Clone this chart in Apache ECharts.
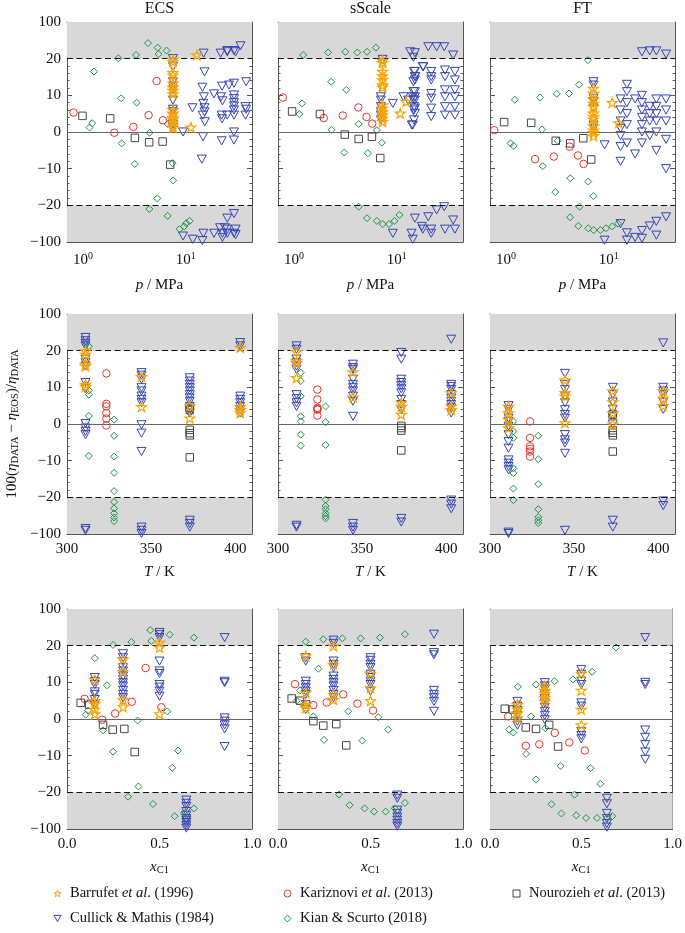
<!DOCTYPE html>
<html><head><meta charset="utf-8">
<script src="https://cdn.jsdelivr.net/npm/echarts@6/dist/echarts.min.js"></script>
<style>html,body{margin:0;padding:0;background:#fff}#c{width:685px;height:933px}</style>
</head><body><div id="c"></div>
<script>
// ---------------- DATA (deviation values in %, x in native units) ----------------
const models = ['ECS', 'sScale', 'FT'];
const seriesNames = ['Barrufet et al. (1996)', 'Cullick & Mathis (1984)', 'Kariznovi et al. (2013)', 'Kian & Scurto (2018)', 'Nourozieh et al. (2013)'];
const yTickValues = [-100, -20, -10, 0, 10, 20, 100];
const xTickP = [1, 10];
const xTickT = [300, 350, 400];
const xTickX = [0.0, 0.5, 1.0];

// ---- row 1: vs p / MPa ----
const ECS_p_barrufet = [[7.5,19.8],[7.5,19.2],[7.5,16.2],[7.5,15.5],[7.5,13.3],[7.5,12.2],[7.5,11.3],[7.5,10.4],[7.5,6.0],[7.5,5.1],[7.5,4.0],[7.5,3.5],[7.5,2.5],[7.5,1.6],[7.5,1.2],[11.2,1.3],[12.8,28]];
const ECS_p_cullick = [[7.5,20.1],[7.5,17.8],[7.5,13.7],[7.5,12.5],[7.5,11.5],[7.5,8.7],[7.5,6.2],[7.5,5.5],[7.5,4.2],[7.5,2.2],[7.5,1.3],[9.4,0],[9.4,-87],[11.6,6.6],[11.7,-94],[14.9,32],[14.7,-1.3],[14.3,-7.4],[15.2,16.4],[14.5,12.2],[15,9.6],[14.8,7.8],[15.2,6.6],[15.2,5.5],[14.6,4.6],[15.3,2.8],[14.8,-81],[14.5,-97],[18.8,10.4],[18.8,-81],[21.8,32],[22.5,12.5],[22,9.6],[22.7,8.5],[22.3,4.6],[22.5,3.6],[22.3,-2.4],[22.7,-81],[22.7,-90],[21.5,-69],[25.3,37.6],[25.3,35],[26.3,12.8],[25.3,4.6],[25.3,-48],[25.3,-72],[25.3,-81],[24,-69],[29.4,37.6],[30.5,35],[29.4,13.3],[29.4,10.1],[29.4,9.1],[29.4,8],[29.4,7.1],[29.4,6],[29.4,4.6],[29.4,0],[29.4,-2.2],[29.4,-81],[29.4,-38],[30.5,-72],[30.5,-84],[34,48],[38.6,13.7],[38,6.9],[38.6,6.2],[38,4.6]];
const ECS_p_kariznovi = [[0.81,5.3],[2.02,-0.2],[3.09,1.4],[4.35,4.6],[5.2,13.9],[5.99,3.2]];
const ECS_p_kian = [[1.28,16.5],[1.16,1.2],[1.23,2.4],[2.21,20.8],[2.35,9.2],[2.38,-3.1],[3.28,28],[3.33,8.0],[3.19,-8.7],[4.29,54],[4.45,-0.2],[4.42,-28],[5.32,44],[5.44,30],[6.5,37.6],[5.28,-18.1],[6.65,-43],[6.65,2.2],[7.43,-8.5],[7.54,-13.2],[8.69,-72],[9.64,-66],[10.1,-59],[10.9,-54]];
const ECS_p_nourozieh = [[0.99,4.4],[1.84,3.7],[3.2,-1.6],[4.4,-2.8],[5.95,-2.6],[7.05,-8.9]];

const SS_p_barrufet = [[7.27,19.5],[7.27,18.9],[7.27,16.5],[7.27,15.3],[7.27,14.2],[7.27,12.8],[7.27,12.2],[7.27,7.4],[7.27,6.5],[7.27,5.5],[7.27,4.6],[7.27,3.7],[7.27,2.8],[12.3,8.3],[10.8,5.1]];
const SS_p_cullick = [[7.0,9.6],[7.0,8.7],[7.0,6.9],[7.0,5.5],[7.0,4.6],[7.0,3.3],[7.27,19.8],[9.15,7.8],[11.6,9.6],[12.9,8.7],[14.5,23],[14.7,16.5],[15.1,15.1],[14.5,13.7],[14.5,11],[14.3,9.6],[14.5,8.7],[14.7,6.9],[14.7,6],[14.7,3.3],[14.3,1.9],[14.3,-94],[9.15,-81],[17.9,17.8],[17.9,-72],[13.5,35],[15,33],[18.1,17.8],[20.2,46],[24.4,46],[28.9,46],[35.3,28],[15,16.5],[15,15.1],[15,14.2],[21.6,16.5],[21.6,15.1],[21.6,14.2],[29.4,16.9],[29.4,15.1],[36.7,16.5],[36.7,14.2],[15,11],[15,9.6],[15,8.7],[15,6.5],[15,5.1],[14,1.9],[21.6,10.5],[21.6,9.2],[21.6,6.5],[21.6,4.2],[29.4,11.5],[29.4,9.6],[29.4,6.9],[29.4,4.6],[36.7,11.5],[36.7,9.6],[36.7,6.9],[36.7,4.6],[17.5,-66],[15,-48],[20.2,-45],[24.4,-30],[28.9,-23],[21.6,-72],[21.6,-81],[29.4,-72],[35.3,-52],[36.7,-72],[13.9,-81]];
const SS_p_kariznovi = [[0.78,9.4],[1.95,3.8],[2.98,4.5],[4.23,6.7],[5.08,4.1],[5.77,2.3]];
const SS_p_kian = [[1.23,28],[1.13,4.9],[1.2,7.8],[2.15,33.6],[2.3,13.7],[2.32,0.6],[3.16,35],[3.23,11.5],[3.09,-5.6],[4.13,33.6],[4.26,2.2],[4.26,-23],[5.13,35],[5.24,-5.8],[5.13,-48],[6.26,44],[6.4,0.5],[7.16,-2.9],[6.4,-54],[7.3,-61],[8.4,-61],[9.5,-54],[10.6,-41]];
const SS_p_nourozieh = [[0.96,5.6],[1.79,4.9],[3.12,-0.7],[4.26,-1.9],[5.73,-1.3],[6.9,-7.1]];

const FT_p_barrufet = [[7.1,11.9],[7.1,10.5],[7.1,8.9],[7.1,7.8],[7.1,6.9],[7.1,5.1],[7.1,4.2],[7.1,3.5],[7.1,1.6],[7.1,0.5],[7.1,-0.2],[7.1,-1.1],[10.8,8],[12.5,2.5]];
const FT_p_cullick = [[7.1,13.7],[7.1,12.8],[7.1,9.2],[7.1,8.3],[7.1,6.5],[7.1,1.9],[7.1,1],[9.1,-3.5],[9.1,-96],[13,9],[13,6],[13,3],[13,1],[13,-1],[13,-4],[13,-8],[15,13],[15,11],[15,8],[15,5],[15,2],[15,-3],[18,9],[18,-6],[21,35],[21,10],[21,8],[21,6],[21,4],[21,2],[21,0],[21,-3],[25,37],[25,7],[25,5],[25,3],[25,-1],[29,37],[29,9],[29,7],[29,5],[29,3],[29,0],[29,-5],[36,30],[36,9],[36,6],[36,3],[36,-2],[36,-10],[13,-60],[15,-80],[18,-90],[21,-75],[25,-65],[29,-55],[36,-45],[15,-96],[21,-92],[29,-85]];
const FT_p_kariznovi = [[0.77,0.5],[1.92,-7.4],[2.92,-6.7],[4.16,-4],[5.01,-6.4],[5.69,-8.7]];
const FT_p_kian = [[1.22,8.8],[1.11,-3.1],[1.19,-3.8],[2.15,9.4],[2.25,0.7],[2.28,-9.3],[3.12,10.4],[3.19,-2.4],[3.02,-16.4],[4.1,10.5],[4.22,-12.6],[4.2,-46],[5.13,12.9],[5.2,-23],[5.05,-65],[6.27,19.6],[6.31,-13.5],[6.31,-70],[7.1,-17.5],[7.12,-74],[8.3,-74],[9.4,-70],[10.8,-66],[12.3,-60]];
const FT_p_nourozieh = [[0.96,2.7],[1.76,2.5],[3.05,-2.4],[4.22,-3.1],[5.65,-1.7],[6.74,-7.5]];

// ---- row 2: vs T / K ----
const ECS_T_barrufet = [[311,19.9],[311,19],[311,16.3],[311,15.8],[311,10.8],[311,10.2],[344.3,12.9],[344.3,4.7],[373,5],[373,1.6],[403,27],[403,4.7],[403,3.9],[403,3]];
const ECS_T_cullick = [[311,48.8],[311,41.6],[311,36],[311,30.4],[311,17.7],[311,16.7],[311,15.8],[311,11.3],[311,9.6],[311,0.1],[311,-1.1],[311,-2],[311,-2.9],[311,-88],[311,-92],[344.3,14],[344.3,13.3],[344.3,12.2],[344.3,9.9],[344.3,9],[344.3,7.6],[344.3,6.7],[344.3,5.8],[344.3,-0.2],[344.3,-2.5],[344.3,-7.5],[344.3,-85],[344.3,-92],[344.3,-99],[373,12.6],[373,11.7],[373,10.8],[373,9.9],[373,9],[373,8],[373,7.1],[373,6.2],[373,4.8],[373,3.9],[373,3],[373,-70],[373,-77],[373,-85],[403,37.6],[403,30.4],[403,7.6],[403,6.7],[403,5.8],[403,4.8],[403,3.9],[403,3]];
const ECS_T_kariznovi = [[323.4,13.8],[323.4,5.5],[323.4,4.8],[323.4,3],[323.4,1.5],[323.4,-0.4]];
const ECS_T_kian = [[313,29.6],[313,9.2],[313,8],[313,2.2],[313,-8.7],[328,1.2],[328,-3.2],[328,-8.9],[328,-13.3],[328,-18.3],[328,-30],[328,-44],[328,-55],[328,-64],[328,-72]];
const ECS_T_nourozieh = [[373,4.4],[373,3.8],[373,-1.6],[373,-2.5],[373,-3.1],[373,-9.1]];

const SS_T_barrufet = [[311,19.7],[311,17.2],[311,16.7],[311,12.6],[344.6,14.2],[344.6,7.3],[373.3,5.8],[373.3,4.8],[373.3,2.6],[403,8.5],[403,4.8],[403,3.9]];
const SS_T_cullick = [[311,30.4],[311,23],[311,17.7],[311,16.7],[311,15.8],[311,14.9],[311,8],[311,6.9],[311,5.8],[311,4.8],[311,-81],[311,-85],[344.6,16.3],[344.6,15.4],[344.6,14.9],[344.6,12.2],[344.6,10.8],[344.6,9.9],[344.6,9],[344.6,7.6],[344.6,6.2],[344.6,2.1],[344.6,-77],[344.6,-85],[344.6,-92],[373.3,19.5],[373.3,17.7],[373.3,12.2],[373.3,11.3],[373.3,10.5],[373.3,9.6],[373.3,8.5],[373.3,6.7],[373.3,5.3],[373.3,3.9],[373.3,-66],[373.3,-74],[403,45],[403,10.8],[403,10.2],[403,9.4],[403,8],[403,7.1],[403,6.2],[403,5.3],[403,4.4],[403,3],[403,-26],[403,-35],[403,-45]];
const SS_T_kariznovi = [[323.4,9.4],[323.4,6.7],[323.4,4.4],[323.4,4.1],[323.4,3.9],[323.4,2.3]];
const SS_T_kian = [[313.5,14],[313.5,11.7],[313.5,7.6],[313.5,2.1],[313.5,0.7],[313.5,-2.9],[313.5,-5.9],[328.3,4.8],[328.3,0.5],[328.3,-5.7],[328.3,-25],[328.3,-39],[328.3,-46],[328.3,-55],[328.3,-61],[328.3,-66]];
const SS_T_nourozieh = [[373.3,-0.5],[373.3,-1.1],[373.3,-1.8],[373.3,-7.2]];

const FT_T_barrufet = [[311,4.8],[311,3],[311,1.2],[311,-1.1],[344.6,12],[344.6,8.5],[344.6,7.6],[344.6,0.3],[373,9],[373,6],[373,3],[373,0],[403,9],[403,7],[403,5]];
const FT_T_cullick = [[311,5],[311,3.9],[311,1.6],[311,0.7],[311,-0.6],[311,-2.9],[311,-4.8],[311,-6.6],[311,-9.8],[311,-10.7],[311,-11.6],[311,-12.5],[311,-96],[311,-99],[344.6,13.8],[344.6,10.8],[344.6,9.4],[344.6,7.6],[344.6,5.8],[344.6,3.9],[344.6,2.6],[344.6,1.6],[344.6,-2.9],[344.6,-4.3],[344.6,-5.2],[344.6,-8],[344.6,-92],[373,10],[373,8],[373,6],[373,4],[373,2],[373,0],[373,-70],[373,-85],[403,37],[403,10],[403,9],[403,8],[403,6],[403,4],[403,-28],[403,-38]];
const FT_T_kariznovi = [[323.8,0.7],[323.8,-3.8],[323.8,-6.1],[323.8,-6.8],[323.8,-7.5],[323.8,-8.9]];
const FT_T_kian = [[313.9,0.7],[313.9,-2],[313.9,-3.8],[313.9,-12.1],[313.9,-13.4],[313.9,-17.6],[313.9,-26],[328.7,-3.2],[328.7,-9.6],[328.7,-16.4],[328.7,-46],[328.7,-63],[328.7,-70],[328.7,-76]];
const FT_T_nourozieh = [[373,2.7],[373,2.5],[373,-1.7],[373,-2.4],[373,-3.1],[373,-7.5]];

// ---- row 3: vs x_C1 ----
const ECS_x_barrufet = [[0.15,10.8],[0.15,5],[0.15,4.1],[0.15,2.6],[0.15,1.4],[0.303,16.3],[0.303,12.9],[0.303,5.3],[0.303,3.3],[0.5,27],[0.5,19.5],[0.5,1.4]];
const ECS_x_cullick = [[0.15,11.3],[0.15,10.2],[0.15,9.4],[0.15,7.4],[0.15,6.7],[0.15,5.3],[0.15,3.9],[0.303,17.8],[0.303,16.7],[0.303,15.6],[0.303,14],[0.303,13.1],[0.303,11.7],[0.303,10.8],[0.303,9.9],[0.303,9],[0.303,7.8],[0.303,6.7],[0.303,5.8],[0.5,48.8],[0.5,44],[0.5,37.6],[0.5,15.8],[0.5,13.1],[0.5,12.4],[0.5,9.4],[0.5,8.7],[0.5,7.6],[0.5,6.2],[0.645,-37],[0.645,-44],[0.645,-51],[0.645,-62],[0.645,-70],[0.645,-77],[0.645,-81],[0.645,-86],[0.645,-92],[0.645,-98],[0.852,37.6],[0.852,10.3],[0.852,9.9],[0.852,0.3],[0.852,-0.6],[0.852,-1.6],[0.852,-2.7],[0.852,-7.5]];
const ECS_x_kariznovi = [[0.095,5.5],[0.19,-0.2],[0.26,1.5],[0.35,4.7],[0.425,13.9],[0.51,3.2]];
const ECS_x_kian = [[0.101,1.2],[0.114,2.3],[0.15,16.6],[0.195,-3.1],[0.216,9.2],[0.249,21.6],[0.249,-8.9],[0.348,28],[0.33,-29.6],[0.382,-0.4],[0.386,-18.4],[0.45,54],[0.456,30.4],[0.465,-45.6],[0.555,44],[0.542,2.1],[0.569,-13.3],[0.6,-8.6],[0.582,-72],[0.632,-66],[0.686,37.6],[0.686,-55]];
const ECS_x_nourozieh = [[0.074,4.4],[0.12,3.9],[0.195,-1.6],[0.247,-2.9],[0.31,-2.7],[0.366,-9]];

const SS_x_barrufet = [[0.15,17.2],[0.15,7.1],[0.15,3.9],[0.15,3],[0.3,19.9],[0.3,14.9],[0.3,6.7],[0.3,5.3],[0.5,12.4],[0.5,8.5],[0.5,5]];
const SS_x_cullick = [[0.15,16.7],[0.15,15.8],[0.15,10.3],[0.15,9.4],[0.15,8.5],[0.15,7.6],[0.15,6.7],[0.15,3.9],[0.15,2.6],[0.3,32],[0.3,25],[0.3,15.8],[0.3,14.9],[0.3,14],[0.3,11.7],[0.3,10.8],[0.3,9.9],[0.3,9],[0.3,7.8],[0.3,6.7],[0.3,5.8],[0.5,16.7],[0.5,16],[0.5,14.9],[0.5,14],[0.5,12.2],[0.5,11.3],[0.5,10.3],[0.5,9.4],[0.5,7.6],[0.645,-26],[0.645,-33],[0.645,-59],[0.645,-66],[0.645,-74],[0.645,-81],[0.645,-88],[0.645,-94],[0.843,45],[0.843,18.1],[0.843,17.5],[0.843,7.8],[0.843,6.7],[0.843,5.8],[0.843,4.8],[0.843,2.1]];
const SS_x_kariznovi = [[0.092,9.5],[0.191,3.8],[0.263,4.5],[0.353,6.7],[0.429,4.2],[0.514,2.3]];
const SS_x_kian = [[0.15,28.8],[0.119,7.8],[0.101,5],[0.218,13.7],[0.191,0.7],[0.245,34],[0.249,-5.7],[0.348,36],[0.33,-25],[0.38,2.1],[0.387,-48],[0.447,36],[0.456,-5.9],[0.468,-55],[0.519,-62],[0.542,0.5],[0.551,37.6],[0.582,-62],[0.596,-2.9],[0.631,-55],[0.686,-43],[0.686,45]];
const SS_x_nourozieh = [[0.074,5.6],[0.119,5],[0.191,-0.6],[0.245,-1.8],[0.315,-1.4],[0.369,-7.2]];

const FT_x_barrufet = [[0.15,3.9],[0.15,2.6],[0.15,1.6],[0.15,0.3],[0.3,9],[0.3,7.8],[0.3,6.9],[0.3,5.8],[0.3,4.8],[0.5,12.4],[0.5,7.8],[0.5,2.6],[0.5,-1.6]];
const FT_x_cullick = [[0.15,4.8],[0.15,3.5],[0.15,2.3],[0.15,1],[0.15,-0.6],[0.15,-1.7],[0.3,9.9],[0.3,9],[0.3,8.1],[0.3,6.7],[0.3,5.6],[0.3,4.4],[0.3,3.2],[0.3,2.1],[0.3,1],[0.3,-0.2],[0.5,13.5],[0.5,12.2],[0.5,10.3],[0.5,9.4],[0.5,4.4],[0.5,3.5],[0.5,-3.4],[0.5,-4.5],[0.5,-5.4],[0.64,-33],[0.64,-45],[0.64,-66],[0.64,-77],[0.64,-88],[0.64,-96],[0.85,37.6],[0.85,10],[0.85,9.4],[0.85,-3],[0.85,-5],[0.85,-7],[0.85,-9],[0.85,-11]];
const FT_x_kariznovi = [[0.099,0.7],[0.196,-7.3],[0.27,-6.9],[0.355,-3.8],[0.434,-6.4],[0.519,-8.6]];
const FT_x_kian = [[0.105,-2.9],[0.128,-3.7],[0.153,8.8],[0.198,-9.5],[0.225,0.7],[0.252,9.4],[0.252,-16.5],[0.303,-2.5],[0.353,10.3],[0.387,-12.8],[0.337,-46],[0.391,-66],[0.454,10.8],[0.463,-25],[0.472,-70],[0.526,-76],[0.55,-13.4],[0.559,12.9],[0.586,-76],[0.604,-17.7],[0.69,19.5],[0.64,-76],[0.67,-72]];
const FT_x_nourozieh = [[0.081,2.8],[0.126,2.6],[0.196,-2.3],[0.252,-2.7],[0.324,-1.6],[0.373,-7.5]];

const panelData = [
  [[ECS_p_barrufet, ECS_p_cullick, ECS_p_kariznovi, ECS_p_kian, ECS_p_nourozieh],
   [SS_p_barrufet, SS_p_cullick, SS_p_kariznovi, SS_p_kian, SS_p_nourozieh],
   [FT_p_barrufet, FT_p_cullick, FT_p_kariznovi, FT_p_kian, FT_p_nourozieh]],
  [[ECS_T_barrufet, ECS_T_cullick, ECS_T_kariznovi, ECS_T_kian, ECS_T_nourozieh],
   [SS_T_barrufet, SS_T_cullick, SS_T_kariznovi, SS_T_kian, SS_T_nourozieh],
   [FT_T_barrufet, FT_T_cullick, FT_T_kariznovi, FT_T_kian, FT_T_nourozieh]],
  [[ECS_x_barrufet, ECS_x_cullick, ECS_x_kariznovi, ECS_x_kian, ECS_x_nourozieh],
   [SS_x_barrufet, SS_x_cullick, SS_x_kariznovi, SS_x_kian, SS_x_nourozieh],
   [FT_x_barrufet, FT_x_cullick, FT_x_kariznovi, FT_x_kian, FT_x_nourozieh]]
];

// ---------------- LAYOUT / STYLE ----------------
const FONT = 'Liberation Serif';
const TXT = '#111';
const FRAME = '#555';
const GL = [67, 278, 490], GT = [22, 314, 609], GW = 185, GH = 220;
const STAR = 'path://M50,2 L61.8,36.2 L97.6,36.6 L69,58.3 L79.4,92.6 L50,72 L20.6,92.6 L31,58.3 L2.4,36.6 L38.2,36.2 Z';
const TRI_DOWN = 'path://M0,0 L100,0 L50,90 Z';
const styles = [
  {color: '#f7a400', symbol: STAR, size: 10, bw: 1.2, z: 6},
  {color: '#3545b5', symbol: TRI_DOWN, size: 9, bw: 1, z: 2},
  {color: '#e8352b', symbol: 'circle', size: 7.5, bw: 1, z: 4},
  {color: '#1b9445', symbol: 'diamond', size: 7, bw: 1, z: 3},
  {color: '#474747', symbol: 'rect', size: 7.5, bw: 1, z: 5}
];
const drawOrder = [1, 3, 2, 4, 0];

// piecewise y scale: linear within +-20, outer 80 units compressed 8x
function ty(v) { const a = Math.abs(v); return a <= 20 ? v : Math.sign(v) * (20 + (a - 20) / 8); }
const Y_MIN = ty(-100), Y_MAX = ty(100);
const yMajor = yTickValues.map(ty);
const yMinor = [];
for (let v = -90; v <= -30; v += 10) yMinor.push(ty(v));
for (let v = -18; v <= 18; v += 2) if (v % 10 !== 0) yMinor.push(v);
for (let v = 30; v <= 90; v += 10) yMinor.push(ty(v));
const yLabelMap = {}; yTickValues.forEach(v => { yLabelMap[ty(v).toFixed(3)] = (v < 0 ? '\u2212' : '') + Math.abs(v); });

const lg = Math.log10;
const rowsX = [
  {min: lg(0.7), max: lg(44), major: xTickP.map(lg),
   minor: [0.8,0.9,2,3,4,5,6,7,8,9,20,30,40].map(lg), f: lg,
   fmt: v => '{b|10}{s|' + Math.round(v) + '}', name: '{i|p} / MPa', nameGap: 36, margin: 9},
  {min: 300, max: 410, major: xTickT, minor: [310,320,330,340,360,370,380,390], f: v => v,
   fmt: v => String(v), name: '{i|T} / K', nameGap: 31, margin: 8},
  {min: 0, max: 1, major: xTickX, minor: [0.1,0.2,0.3,0.4,0.6,0.7,0.8,0.9], f: v => v,
   fmt: v => v.toFixed(1), name: '{i|x}{s|C1}', nameGap: 29, margin: 8}
];

const labelRich = {
  b: {fontFamily: FONT, fontSize: 15, color: TXT},
  s: {fontFamily: FONT, fontSize: 10, color: TXT, padding: [0, 0, 8, 0]}
};
const nameRich = {
  i: {fontFamily: FONT, fontSize: 15, fontStyle: 'italic', color: TXT},
  s: {fontFamily: FONT, fontSize: 10.5, color: TXT, padding: [7, 0, 0, 0]}
};

const grid = [], xAxis = [], yAxis = [], series = [], graphic = [];
for (let r = 0; r < 3; r++) {
  for (let c = 0; c < 3; c++) {
    const g = grid.length;
    grid.push({left: GL[c], top: GT[r], width: GW, height: GH});
    const rx = rowsX[r];
    const xi = xAxis.length;
    const xBase = {gridIndex: g, type: 'value', min: rx.min, max: rx.max, splitLine: {show: false}};
    const lineOn = {show: true, onZero: false, lineStyle: {color: FRAME, width: 1}};
    const lineOff = {show: false, onZero: false};
    xAxis.push(Object.assign({}, xBase, {
      position: 'bottom', axisLine: lineOn,
      axisTick: {show: true, inside: true, length: 5, customValues: rx.major, lineStyle: {color: FRAME}},
      axisLabel: {show: true, customValues: rx.major, formatter: rx.fmt, margin: rx.margin,
        fontFamily: FONT, fontSize: 15, color: TXT, rich: labelRich},
      name: rx.name, nameLocation: 'middle', nameGap: rx.nameGap,
      nameTextStyle: {fontFamily: FONT, fontSize: 15, color: TXT, rich: nameRich}
    }));
    xAxis.push(Object.assign({}, xBase, {position: 'bottom', axisLine: lineOff,
      axisTick: {show: true, inside: true, length: 2.5, customValues: rx.minor, lineStyle: {color: FRAME}},
      axisLabel: {show: false}}));
    xAxis.push(Object.assign({}, xBase, {position: 'top', axisLine: lineOn,
      axisTick: {show: true, inside: true, length: 5, customValues: rx.major, lineStyle: {color: FRAME}},
      axisLabel: {show: false}}));
    xAxis.push(Object.assign({}, xBase, {position: 'top', axisLine: lineOff,
      axisTick: {show: true, inside: true, length: 2.5, customValues: rx.minor, lineStyle: {color: FRAME}},
      axisLabel: {show: false}}));

    const yi = yAxis.length;
    const yBase = {gridIndex: g, type: 'value', min: Y_MIN, max: Y_MAX, splitLine: {show: false}};
    yAxis.push(Object.assign({}, yBase, {position: 'left', axisLine: lineOn,
      axisTick: {show: true, inside: true, length: 5, customValues: yMajor, lineStyle: {color: FRAME}},
      axisLabel: {show: c === 0, customValues: yMajor, margin: 6, formatter: v => yLabelMap[v.toFixed(3)] || '',
        fontFamily: FONT, fontSize: 15, color: TXT}}));
    yAxis.push(Object.assign({}, yBase, {position: 'left', axisLine: lineOff,
      axisTick: {show: true, inside: true, length: 2.5, customValues: yMinor, lineStyle: {color: FRAME}},
      axisLabel: {show: false}}));
    yAxis.push(Object.assign({}, yBase, {position: 'right', axisLine: lineOn,
      axisTick: {show: true, inside: true, length: 5, customValues: yMajor, lineStyle: {color: FRAME}},
      axisLabel: {show: false}}));
    yAxis.push(Object.assign({}, yBase, {position: 'right', axisLine: lineOff,
      axisTick: {show: true, inside: true, length: 2.5, customValues: yMinor, lineStyle: {color: FRAME}},
      axisLabel: {show: false}}));

    // grey bands, dashed +-20 lines, zero line
    series.push({
      type: 'scatter', xAxisIndex: xi, yAxisIndex: yi, data: [], silent: true, z: 0,
      markArea: {silent: true, itemStyle: {color: '#d8d8d8'},
        data: [[{yAxis: ty(20)}, {yAxis: Y_MAX}], [{yAxis: Y_MIN}, {yAxis: ty(-20)}]]},
      markLine: {silent: true, symbol: 'none', label: {show: false}, animation: false,
        data: [
          {yAxis: ty(20), lineStyle: {color: '#111', type: [6, 3.5], width: 1.2}},
          {yAxis: ty(-20), lineStyle: {color: '#111', type: [6, 3.5], width: 1.2}},
          {yAxis: 0, lineStyle: {color: '#666', type: 'solid', width: 1}}
        ]}
    });

    drawOrder.forEach(k => {
      const st = styles[k];
      series.push({
        type: 'scatter', name: seriesNames[k], xAxisIndex: xi, yAxisIndex: yi,
        symbol: st.symbol, symbolSize: st.size, symbolKeepAspect: true, z: st.z,
        itemStyle: {color: 'rgba(0,0,0,0)', borderColor: st.color, borderWidth: st.bw, opacity: 1},
        emphasis: {disabled: true},
        data: panelData[r][c][k].map(d => [rx.f(d[0]), ty(d[1])])
      });
    });
  }
}

// titles
models.forEach((m, c) => graphic.push({type: 'text', x: GL[c] + GW / 2, y: 9,
  style: {text: m, fill: TXT, font: '16px "' + FONT + '"', align: 'center', verticalAlign: 'middle'}}));

// y-axis label
graphic.push({type: 'text', x: 12, y: GT[1] + GH / 2, rotation: Math.PI / 2,
  style: {text: '{n|100(}{i|\u03b7}{s|DATA}{n| \u2212 }{i|\u03b7}{s|EOS}{n|)/}{i|\u03b7}{s|DATA}',
    align: 'center', verticalAlign: 'middle', fill: TXT,
    rich: {
      n: {fontFamily: FONT, fontSize: 15, fill: TXT},
      i: {fontFamily: FONT, fontSize: 15, fontStyle: 'italic', fill: TXT},
      s: {fontFamily: FONT, fontSize: 10.5, fill: TXT, padding: [7, 0, 0, 0]}
    }}});

// legends (matplotlib-like 3 columns, column-major)
const legPos = [[57, 893], [57, 918], [287, 893], [287, 918], [516, 893]];
const legRich = {
  n: {fontFamily: FONT, fontSize: 14.5, color: TXT},
  i: {fontFamily: FONT, fontSize: 14.5, fontStyle: 'italic', color: TXT}
};
const legend = seriesNames.map((nm, k) => ({
  data: [{name: nm, icon: styles[k].symbol,
    itemStyle: {color: 'rgba(0,0,0,0)', borderColor: styles[k].color, borderWidth: 1}}],
  left: legPos[k][0] - 3.5, top: legPos[k][1] - 7, padding: 0, itemWidth: 7, itemHeight: 7,
  itemGap: 0, selectedMode: false, textStyle: {fontFamily: FONT, fontSize: 14.5, color: TXT, rich: legRich, padding: [0, 0, 0, 4]},
  formatter: n => n.indexOf('et al.') >= 0 ? '{n|' + n.split('et al.')[0] + '}{i|et al}{n|.' + n.split('et al.')[1] + '}' : '{n|' + n + '}'
}));

const chart = echarts.init(document.getElementById('c'), null, {renderer: 'canvas'});
chart.setOption({animation: false, backgroundColor: '#fff', grid, xAxis, yAxis, series, graphic, legend});
</script>
</body></html>
